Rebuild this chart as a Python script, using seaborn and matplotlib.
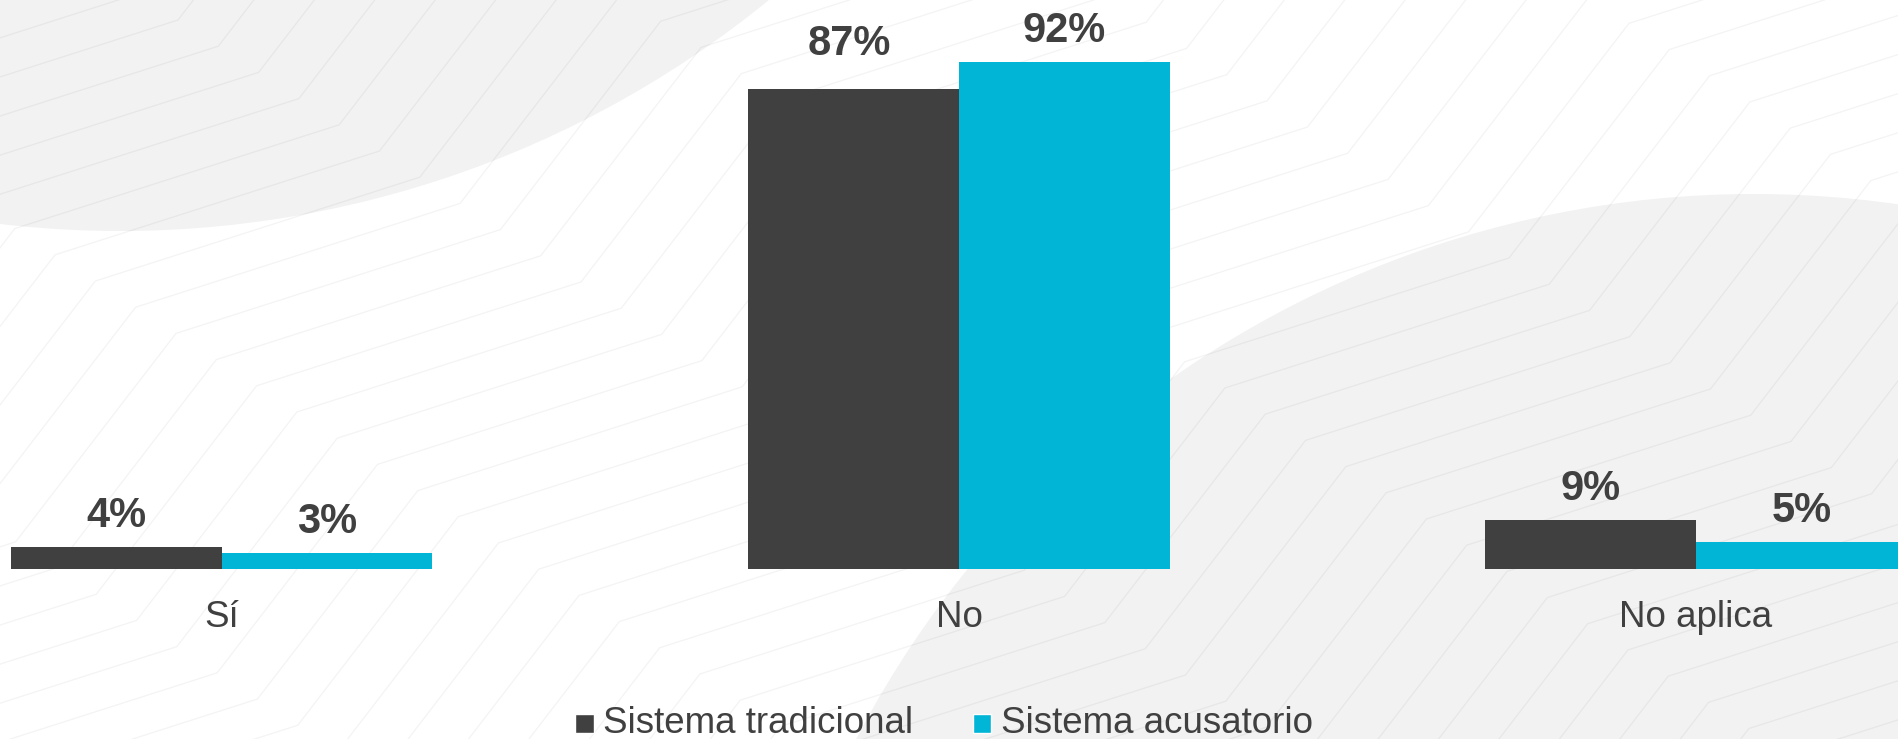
import numpy as np
import pandas as pd
import matplotlib
matplotlib.use('Agg')
import matplotlib.pyplot as plt
import seaborn as sns
from matplotlib.patches import Circle, Rectangle, Patch
from matplotlib.legend_handler import HandlerPatch

# ---------------- data ----------------
categories = ['Sí', 'No', 'No aplica']
series_names = ['Sistema tradicional', 'Sistema acusatorio']
tradicional = [4, 87, 9]
acusatorio = [3, 92, 5]

# ---------------- style ----------------
DARK = '#404040'
CYAN = '#00B5D6'
TEXT = '#404040'
BLOB = '#f2f2f2'

sns.set_theme(style='white')
plt.rcParams['font.family'] = ['Liberation Sans', 'DejaVu Sans']

W, H = 1898, 739
fig = plt.figure(figsize=(W / 100, H / 100), dpi=100)
fig.patch.set_facecolor('white')

# ---------------- decorative background ----------------
bg = fig.add_axes([0, 0, 1, 1], zorder=0)
bg.set_xlim(0, W)
bg.set_ylim(H, 0)
bg.axis('off')
bg.add_patch(Circle((120, -796), 1027, facecolor=BLOB, edgecolor='none'))
bg.add_patch(Circle((1754, 1206), 1012, facecolor=BLOB, edgecolor='none'))

m, s_sh, s_st = 0.65, -0.32, -1.3
P, a0, b_off = 965.0, 147.0, 481.0


def inter(x, y, s, x0):
    X = (y - s * x + m * x0) / (m - s)
    return X, y + s * (X - x)


for i in range(-60, 80):
    xa, ya = 178 + 40.3 * i, 20 + 26.2 * i
    pts_r = [(xa, ya)]
    x, y, k = xa, ya, 0
    while x < W + 150 and y > -150:
        x, y = inter(x, y, s_st, a0 + k * P + b_off)
        pts_r.append((x, y))
        k += 1
        x, y = inter(x, y, s_sh, a0 + k * P)
        pts_r.append((x, y))
    pts_l = []
    x, y, k = xa, ya, 0
    while x > -150 and y < H + 150:
        x, y = inter(x, y, s_sh, a0 + (k - 1) * P + b_off)
        pts_l.append((x, y))
        k -= 1
        x, y = inter(x, y, s_st, a0 + k * P)
        pts_l.append((x, y))
    pts = pts_l[::-1] + pts_r
    xs, ys = zip(*pts)
    bg.plot(xs, ys, color='black', alpha=0.045, lw=1.0, solid_joinstyle='miter')

# ---------------- main chart ----------------
ax = fig.add_axes([0, 0.2294, 1, 0.7706], zorder=1)
ax.patch.set_alpha(0)

df = pd.DataFrame({
    'Respuesta': categories * 2,
    'Porcentaje': tradicional + acusatorio,
    'Sistema': [series_names[0]] * len(categories) + [series_names[1]] * len(categories),
})

sns.barplot(data=df, x='Respuesta', y='Porcentaje', hue='Sistema',
            palette=[DARK, CYAN], saturation=1, width=0.5714, errorbar=None,
            linewidth=0, edgecolor='none', legend=False, ax=ax)

ax.set_xlim(-0.301, 2.274)
ax.set_ylim(0, 103.2)
ax.set_xlabel('')
ax.set_ylabel('')
ax.set_yticks([])
for sp in ax.spines.values():
    sp.set_visible(False)
ax.tick_params(axis='x', length=0, pad=41.2, labelsize=26.5, labelcolor=TEXT)
plt.setp(ax.get_xticklabels(), va='baseline')

# value labels
special = {('Sistema tradicional', 'No'): (-3, 25)}
for cont, name, vals in zip(ax.containers, series_names, [tradicional, acusatorio]):
    for bar, cat, v in zip(cont.patches, categories, vals):
        dx, dy = special.get((name, cat), (0, 14.4))
        ax.annotate(f'{v}%', (bar.get_x() + bar.get_width() / 2, bar.get_height()),
                    xytext=(dx, dy), textcoords='offset points',
                    ha='center', va='baseline', fontsize=30, fontweight='bold',
                    color=TEXT, annotation_clip=False)


# legend with square markers sitting on the text baseline
def square(legend, orig_handle, xdescent, ydescent, width, height, fontsize):
    return Rectangle((-xdescent, 0), width, width)


handles = [Patch(facecolor=DARK), Patch(facecolor=CYAN)]
fig.legend(handles, series_names, loc='lower center', bbox_to_anchor=(0.4974, -0.0025),
           ncol=2, frameon=False, fontsize=26.5, labelcolor=TEXT,
           handlelength=0.5, handleheight=0.7, handletextpad=0.26,
           columnspacing=1.62, borderpad=0, borderaxespad=0,
           handler_map={Patch: HandlerPatch(patch_func=square)})

fig.savefig('out.png', dpi=100, facecolor='white')
